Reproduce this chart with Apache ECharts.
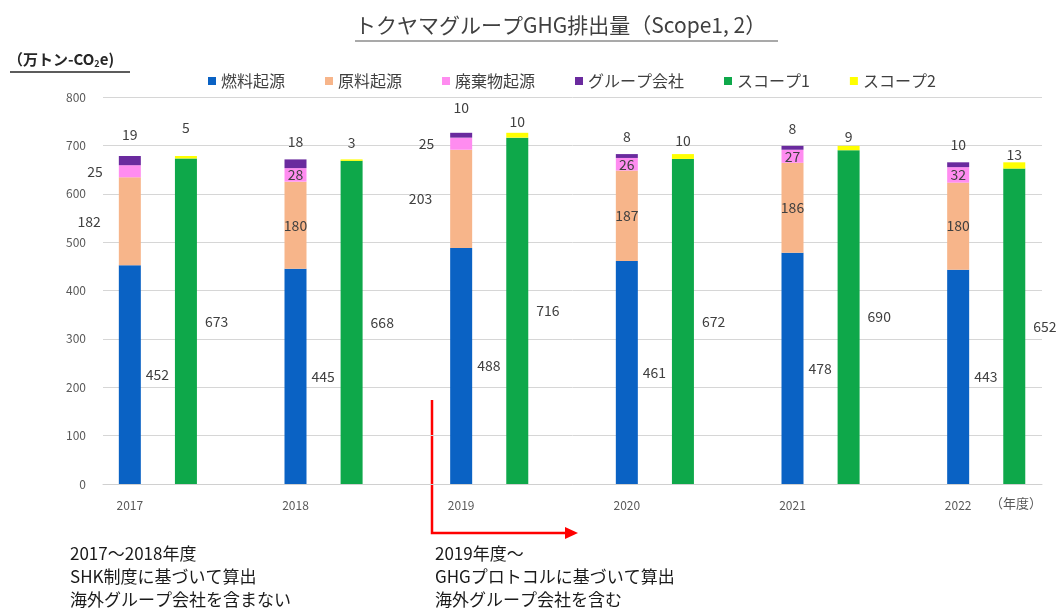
<!DOCTYPE html>
<html>
<head>
<meta charset="utf-8">
<title>トクヤマグループGHG排出量</title>
<script src="https://cdn.jsdelivr.net/npm/echarts@6/dist/echarts.min.js"></script>
<style>
  html, body { margin: 0; padding: 0; background: #fff; }
  #main { width: 1057px; height: 610px; }
</style>
</head>
<body>
<div id="main"></div>
<script>
  // 年度
  var years = ['2017', '2018', '2019', '2020', '2021', '2022'];
  // 内訳 (万トン-CO2e)
  var fuel = [452, 445, 488, 461, 478, 443];      // 燃料起源
  var rawMat = [182, 180, 203, 187, 186, 180];    // 原料起源
  var waste = [25, 28, 25, 26, 27, 32];           // 廃棄物起源
  var groupCo = [19, 18, 10, 8, 8, 10];           // グループ会社
  var scope1 = [673, 668, 716, 672, 690, 652];
  var scope2 = [5, 3, 10, 10, 9, 13];
  var yTicks = [0, 100, 200, 300, 400, 500, 600, 700, 800];

  var FONT = '"Noto Sans CJK JP", "Noto Sans", sans-serif';
  var labelColor = '#404040';

  // ラベル位置の調整 (左に出すもの・上の余白)
  var leftIdx = [0, 2];
  var gapGroup = [14, 11, 18, 10, 10, 11];
  var gapScope2 = [21, 10, 4, 6, 2, 1];

  function sideData(arr, dist) {
    return arr.map(function (v, i) {
      if (leftIdx.indexOf(i) >= 0) {
        return { value: v, label: { position: 'left', distance: dist } };
      }
      return v;
    });
  }
  function topData(arr, gaps) {
    return arr.map(function (v, i) {
      return { value: v, label: { distance: gaps[i] } };
    });
  }

  var lbl = { show: true, color: labelColor, fontSize: 14, fontFamily: FONT };
  var BW = 22, GAP = '155%';

  var myChart = echarts.init(document.getElementById('main'));
  var option = {
    animation: false,
    textStyle: { fontFamily: FONT },
    legend: {
      data: ['燃料起源', '原料起源', '廃棄物起源', 'グループ会社', 'スコープ1', 'スコープ2'],
      left: 203,
      top: 68,
      icon: 'rect',
      itemWidth: 8,
      itemHeight: 8,
      itemGap: 40,
      textStyle: { fontSize: 16, color: labelColor, fontFamily: FONT }
    },
    grid: [
      { left: 103, right: 15, top: 97, bottom: 126 },
      { left: 47, right: 16, top: 97, bottom: 126 }
    ],
    xAxis: [
      {
        type: 'category', gridIndex: 0, data: years,
        axisLine: { lineStyle: { color: '#d0d0d0' } },
        axisTick: { show: false }, axisLabel: { show: false }
      },
      {
        type: 'category', gridIndex: 1, data: years,
        axisLine: { show: false }, axisTick: { show: false },
        axisLabel: { color: '#595959', fontSize: 12, margin: 15, fontFamily: FONT }
      }
    ],
    yAxis: [
      {
        type: 'value', gridIndex: 0,
        min: yTicks[0], max: yTicks[yTicks.length - 1], interval: 100,
        axisLine: { show: false }, axisTick: { show: false },
        axisLabel: { color: '#595959', fontSize: 12, margin: 17, fontFamily: FONT },
        splitLine: { lineStyle: { color: '#d6d6d6' } }
      },
      { type: 'value', gridIndex: 1, min: 0, max: 800, show: false }
    ],
    series: [
      // 左側の空き枠 (積み上げ棒を年ラベルの真上に置くため)
      {
        name: '_space', type: 'bar', stack: 'space', xAxisIndex: 1, yAxisIndex: 1,
        barWidth: BW, barGap: GAP, data: [], silent: true
      },
      {
        name: '燃料起源', type: 'bar', stack: 'src', xAxisIndex: 1, yAxisIndex: 1,
        barWidth: BW, barGap: GAP, data: fuel,
        itemStyle: { color: '#0a62c4' },
        label: Object.assign({}, lbl, { position: 'right', distance: 5 })
      },
      {
        name: '原料起源', type: 'bar', stack: 'src', xAxisIndex: 1, yAxisIndex: 1,
        barWidth: BW, barGap: GAP, data: sideData(rawMat, 18),
        itemStyle: { color: '#f7b58a' },
        label: Object.assign({}, lbl, { position: 'inside' })
      },
      {
        name: '廃棄物起源', type: 'bar', stack: 'src', xAxisIndex: 1, yAxisIndex: 1,
        barWidth: BW, barGap: GAP, data: sideData(waste, 16),
        itemStyle: { color: '#ff8cf0' },
        label: Object.assign({}, lbl, { position: 'inside' })
      },
      {
        name: 'グループ会社', type: 'bar', stack: 'src', xAxisIndex: 1, yAxisIndex: 1,
        barWidth: BW, barGap: GAP, data: topData(groupCo, gapGroup),
        itemStyle: { color: '#6a2a9e' },
        label: Object.assign({}, lbl, { position: 'top' })
      },
      {
        name: 'スコープ1', type: 'bar', stack: 'scope', xAxisIndex: 1, yAxisIndex: 1,
        barWidth: BW, barGap: GAP, data: scope1,
        itemStyle: { color: '#0ea84a' },
        label: Object.assign({}, lbl, { position: 'right', distance: 8 })
      },
      {
        name: 'スコープ2', type: 'bar', stack: 'scope', xAxisIndex: 1, yAxisIndex: 1,
        barWidth: BW, barGap: GAP, data: topData(scope2, gapScope2),
        itemStyle: { color: '#ffff00' },
        label: Object.assign({}, lbl, { position: 'top' })
      }
    ],
    graphic: [
      // タイトル
      {
        type: 'text', left: 355, top: 15,
        style: { text: 'トクヤマグループGHG排出量（Scope1, 2）', fontSize: 21, fill: '#404040', fontFamily: FONT }
      },
      {
        type: 'line', shape: { x1: 355, y1: 41, x2: 778, y2: 41 },
        style: { stroke: '#8c8c8c', lineWidth: 1.5 }
      },
      // 単位
      {
        type: 'text', left: 8, top: 52,
        style: {
          text: '{a|（万トン-CO}{s|2}{a|e)}',
          rich: {
            a: { fontSize: 15, fill: '#262626', fontWeight: 'bold', fontFamily: FONT },
            s: { fontSize: 9, fill: '#262626', fontWeight: 'bold', padding: [8, 0, 0, 0], fontFamily: FONT }
          }
        }
      },
      {
        type: 'line', shape: { x1: 10, y1: 72, x2: 130, y2: 72 },
        style: { stroke: '#262626', lineWidth: 1.5 }
      },
      // 年度
      {
        type: 'text', left: 990, top: 497,
        style: { text: '（年度）', fontSize: 13, fill: '#595959', fontFamily: FONT }
      },
      // 矢印
      {
        type: 'polyline', shape: { points: [[432, 400], [432, 533], [567, 533]] },
        style: { stroke: '#ff0000', lineWidth: 2.5, fill: null }
      },
      {
        type: 'polygon', shape: { points: [[565, 527], [578, 533], [565, 539]] },
        style: { fill: '#ff0000' }
      },
      // 注記
      {
        type: 'text', left: 70, top: 542,
        style: {
          text: '2017～2018年度\nSHK制度に基づいて算出\n海外グループ会社を含まない',
          fontSize: 17, lineHeight: 23, fill: '#1a1a1a', fontFamily: FONT
        }
      },
      {
        type: 'text', left: 435, top: 542,
        style: {
          text: '2019年度～\nGHGプロトコルに基づいて算出\n海外グループ会社を含む',
          fontSize: 17, lineHeight: 23, fill: '#1a1a1a', fontFamily: FONT
        }
      }
    ]
  };
  myChart.setOption(option);
</script>
</body>
</html>
